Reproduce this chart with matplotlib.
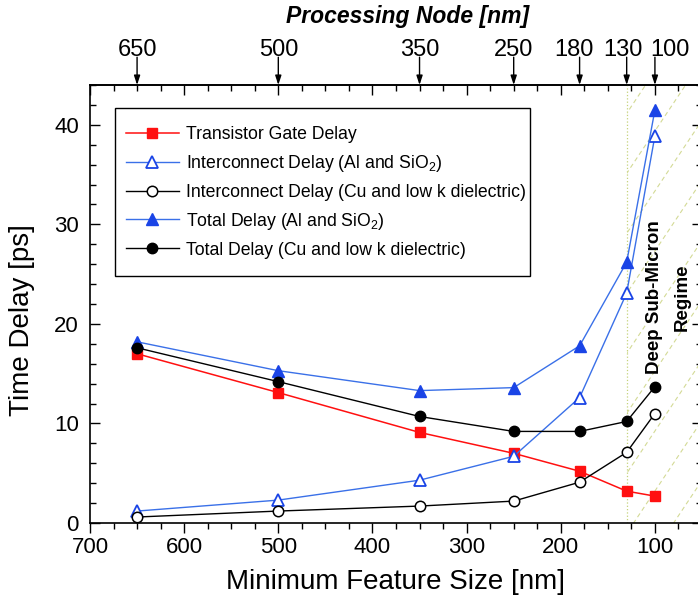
import numpy as np
import matplotlib
matplotlib.use("Agg")
import matplotlib.pyplot as plt
from matplotlib.ticker import MultipleLocator
from matplotlib.patches import Rectangle

plt.rcParams['font.family'] = ['Liberation Sans', 'DejaVu Sans']
plt.rcParams['mathtext.fontset'] = 'custom'
plt.rcParams['mathtext.rm'] = 'Liberation Sans'
plt.rcParams['mathtext.it'] = 'Liberation Sans:italic'
plt.rcParams['mathtext.bf'] = 'Liberation Sans:bold'

# ---- data ----
feature_size = [650, 500, 350, 250, 180, 130, 100]
gate_delay = [17.0, 13.1, 9.1, 7.0, 5.2, 3.2, 2.7]
inter_al = [1.2, 2.3, 4.3, 6.7, 12.6, 23.1, 38.9]
inter_cu = [0.6, 1.2, 1.7, 2.2, 4.1, 7.1, 11.0]
total_al = [18.2, 15.3, 13.3, 13.6, 17.8, 26.2, 41.5]
total_cu = [17.6, 14.2, 10.7, 9.2, 9.2, 10.2, 13.7]
node_labels = ['650', '500', '350', '250', '180', '130', '100']
node_label_shift = [0, 0, 0, 0, -4, -2.5, 11]   # points, as placed in the reference
deep_start = 130

red = '#ff1010'
blue = '#1a44e6'
blue_line = '#3a70e8'
hatch_col = '#d3da95'

W, H = 698, 606
AX_L, AX_R, AX_T, AX_B = 90, 702, 85, 523
fig = plt.figure(figsize=(W/100, H/100), dpi=100)
ax = fig.add_axes([AX_L/W, 1-AX_B/H, (AX_R-AX_L)/W, (AX_B-AX_T)/H])
aw, ah = AX_R-AX_L, AX_B-AX_T

def axc(px, py):
    return ((px-AX_L)/aw, (AX_B-py)/ah)

ax.set_xlim(700, 50)
ax.set_ylim(0, 44)

# deep sub-micron region
span = ax.axvspan(deep_start, 50, facecolor='none', edgecolor='none', zorder=0)
ax.axvline(deep_start, color='#c5d27a', lw=0.9, ls=':', zorder=1)
k = 1.5 * aw / ah
for u0 in np.arange(0.30, 1.05, 40/aw):
    uu = np.array([u0 - 0.05, u0 + 1.2/k])
    vv = k * (uu - u0)
    ln, = ax.plot(uu, vv, transform=ax.transAxes, color=hatch_col, lw=0.8,
                  ls=(0, (4, 3)), zorder=1)
    ln.set_clip_path(span)

ax.text(100, 22.7, 'Deep Sub-Micron', rotation=90, ha='center', va='center',
        fontsize=13.5, fontweight='bold', zorder=5)
ax.text(71, 22.7, 'Regime', rotation=90, ha='center', va='center',
        fontsize=13.5, fontweight='bold', zorder=5)

ms = 7.5
ax.plot(feature_size, gate_delay, color=red, marker='s', ms=ms, lw=1.1,
        mfc=red, mec=red, label='Transistor Gate Delay', zorder=4)
ax.plot(feature_size, inter_al, color=blue_line, marker='^', ms=ms+1, lw=1.0,
        mfc='white', mec=blue, mew=1.3, label=r'Interconnect Delay (Al and SiO$_2$)', zorder=4)
ax.plot(feature_size, inter_cu, color='black', marker='o', ms=ms, lw=1.0,
        mfc='white', mec='black', mew=1.1, label='Interconnect Delay (Cu and low k dielectric)', zorder=4)
ax.plot(feature_size, total_al, color=blue_line, marker='^', ms=ms+1, lw=1.0,
        mfc=blue, mec=blue, label=r'Total Delay (Al and SiO$_2$)', zorder=4)
ax.plot(feature_size, total_cu, color='black', marker='o', ms=ms, lw=1.0,
        mfc='black', mec='black', label='Total Delay (Cu and low k dielectric)', zorder=4)

leg = ax.legend(loc='upper left', bbox_to_anchor=axc(126, 126), borderaxespad=0,
                fontsize=12.7, frameon=False, handlelength=3.0, handletextpad=0.4,
                labelspacing=0.56, borderpad=0)
x0, y1 = axc(115, 108)
x1, y0 = axc(530, 276)
ax.add_patch(Rectangle((x0, y0), x1-x0, y1-y0, transform=ax.transAxes,
                       facecolor='white', edgecolor='black', lw=1.0, zorder=3))
leg.set_zorder(6)

# ticks
ax.xaxis.set_major_locator(MultipleLocator(100))
ax.xaxis.set_minor_locator(MultipleLocator(25))
ax.yaxis.set_major_locator(MultipleLocator(10))
ax.yaxis.set_minor_locator(MultipleLocator(2))
ax.tick_params(axis='x', which='both', bottom=True, top=False, labelsize=16, pad=3)
ax.tick_params(axis='y', which='both', left=True, right=True, direction='in', labelsize=16, pad=8)
ax.tick_params(axis='x', which='major', direction='out', length=7, width=1)
ax.tick_params(axis='x', which='minor', direction='out', length=4, width=1)
ax.tick_params(axis='y', which='major', length=7, width=1)
ax.tick_params(axis='y', which='minor', length=4.5, width=1)
for s in ax.spines.values():
    s.set_linewidth(1.2)

sec = ax.secondary_xaxis('top')
sec.xaxis.set_major_locator(MultipleLocator(100))
sec.xaxis.set_minor_locator(MultipleLocator(25))
sec.tick_params(which='both', direction='in', labeltop=False)
sec.tick_params(which='major', length=7, width=1)
sec.tick_params(which='minor', length=4, width=1)
sec.spines['top'].set_linewidth(1.2)

ax.set_xlabel('Minimum Feature Size [nm]', fontsize=20, labelpad=8)
ax.set_ylabel('Time Delay [ps]', fontsize=20)
ax.yaxis.set_label_coords(*axc(35, 320))

# processing node arrows
for x, lab, dx in zip(feature_size, node_labels, node_label_shift):
    ax.annotate('', xy=(x, 1.0), xycoords=ax.get_xaxis_transform(),
                xytext=(0, 20), textcoords='offset points',
                arrowprops=dict(arrowstyle='-|>,head_length=0.55,head_width=0.18',
                                color='black', lw=1.0, shrinkA=0, shrinkB=0))
    ax.annotate(lab, xy=(x, 1.0), xycoords=ax.get_xaxis_transform(),
                xytext=(dx, 21), textcoords='offset points', ha='center', va='baseline',
                fontsize=17)

fig.text(408/W, 1-17/H, 'Processing Node [nm]', ha='center', va='center',
         fontsize=16.5, fontweight='bold', fontstyle='italic')

fig.savefig('out.png', dpi=100)
